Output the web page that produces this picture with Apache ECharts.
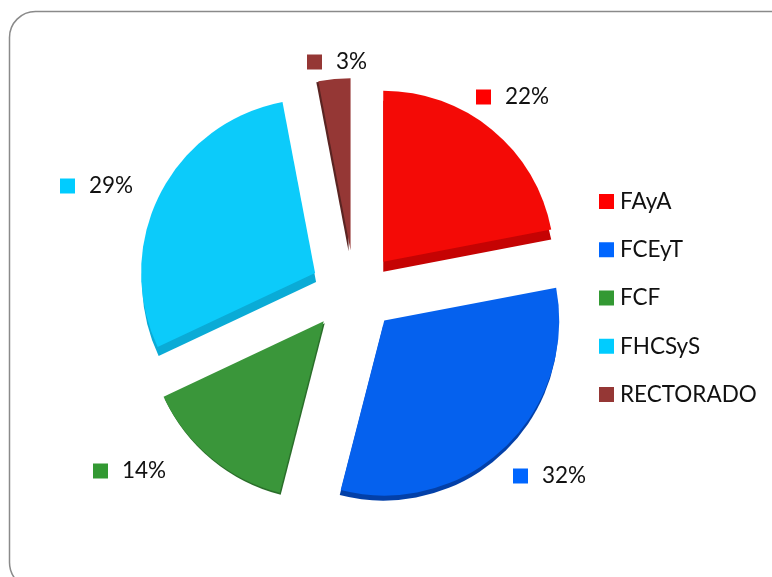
<!DOCTYPE html>
<html>
<head>
<meta charset="utf-8">
<style>html,body{margin:0;padding:0;background:#fff}#c{width:772px;height:577px}</style>
<script src="https://cdn.jsdelivr.net/npm/echarts@6/dist/echarts.min.js"></script>
</head>
<body>
<div id="c"></div>
<script>
var categories = ['FAyA', 'FCEyT', 'FCF', 'FHCSyS', 'RECTORADO'];
var values = [22, 32, 14, 29, 3];
var keyColors = ['#FF0000', '#0066FF', '#339933', '#00CCFF', '#953735'];
var faceColors = ['#F40A06', '#0561EE', '#3A963A', '#0CCBFA', '#953735'];
var sideColors = ['#C50303', '#0340A8', '#2A6E2A', '#0AABD6', '#5A2422'];
var sideShift = [[0, 10], [-1, 5], [1, 2], [1, 9], [-2, 1]];
var sliceRadius = [171, 175, 177, 174, 172];
var sliceNudge = [[2, 3], [1, -1], [-4, -2], [-2, 1], [0, 1]];
var labelAnchors = [[476, 97], [513, 476], [93, 471], [60, 186], [307, 62]];

var CENTER = [354.5, 291], OFFSET = 42, TRANSPARENT = 'rgba(0,0,0,0)';

function pieBase() {
  return {
    type: 'pie', startAngle: 90, clockwise: true,
    silent: true, animation: false, avoidLabelOverlap: false,
    emphasis: { disabled: true }
  };
}
function slicePie(k, color, shift, z) {
  return Object.assign(pieBase(), {
    selectedMode: 'multiple', selectedOffset: OFFSET,
    radius: sliceRadius[k],
    center: [CENTER[0] + sliceNudge[k][0] + shift[0], CENTER[1] + sliceNudge[k][1] + shift[1]],
    z: z,
    label: { show: false }, labelLine: { show: false },
    data: categories.map(function (n, i) {
      return { name: n, value: values[i], selected: true,
        itemStyle: { color: i === k ? color : TRANSPARENT } };
    })
  });
}

var series = [];
categories.forEach(function (_, k) {
  series.push(slicePie(k, faceColors[k], [0, 0], 5));
  series.push(slicePie(k, sideColors[k], sideShift[k], 2));
});
// Percentage labels with their colour keys, on an unexploded transparent pie
series.push(Object.assign(pieBase(), {
  center: CENTER, radius: 172, z: 6,
  itemStyle: { color: TRANSPARENT },
  label: { show: true, position: 'outside', formatter: function (p) { return '{s|}{t|' + p.value + '%}'; } },
  labelLine: { show: false },
  labelLayout: function (p) {
    var a = labelAnchors[p.dataIndex];
    return { x: a[0], y: a[1], align: 'left', verticalAlign: 'middle' };
  },
  data: categories.map(function (n, i) {
    return { name: n, value: values[i], label: { rich: {
      s: { width: 15, height: 15, backgroundColor: keyColors[i] },
      t: { fontFamily: 'Lato', fontSize: 22.5, color: '#111', padding: [0, 0, 0, 14] }
    } } };
  })
}));

var chart = echarts.init(document.getElementById('c'), null, { renderer: 'canvas' });
chart.setOption({
  backgroundColor: '#fff',
  animation: false,
  graphic: [{
    type: 'rect', silent: true, z: 0,
    shape: { x: 9.5, y: 11.5, width: 800, height: 577, r: 26 },
    style: { fill: '#fff', stroke: '#8a8a8a', lineWidth: 1.5 }
  }],
  legend: {
    orient: 'vertical', left: 594, top: 182, itemWidth: 15, itemHeight: 15, itemGap: 19.25,
    selectedMode: false, icon: 'rect',
    textStyle: { fontFamily: 'Lato', fontSize: 22.5, color: '#111', lineHeight: 29, padding: [0, 0, 0, 1] },
    data: categories.map(function (n, i) { return { name: n, itemStyle: { color: keyColors[i] } }; })
  },
  series: series
});
</script>
</body>
</html>
